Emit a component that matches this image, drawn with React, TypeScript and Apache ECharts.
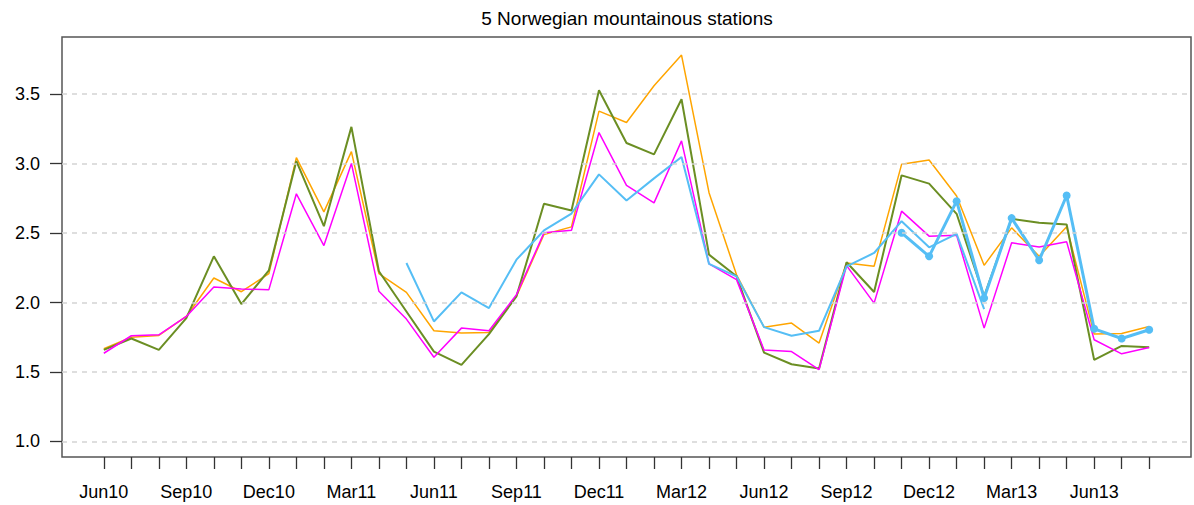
import React, { useEffect, useRef } from "react";
import * as echarts from "echarts";

const months = [
  "Jun10", "Jul10", "Aug10", "Sep10", "Oct10", "Nov10", "Dec10",
  "Jan11", "Feb11", "Mar11", "Apr11", "May11", "Jun11", "Jul11", "Aug11", "Sep11", "Oct11", "Nov11", "Dec11",
  "Jan12", "Feb12", "Mar12", "Apr12", "May12", "Jun12", "Jul12", "Aug12", "Sep12", "Oct12", "Nov12", "Dec12",
  "Jan13", "Feb13", "Mar13", "Apr13", "May13", "Jun13", "Jul13", "Aug13",
];

const labelMonths = ["Jun10", "Sep10", "Dec10", "Mar11", "Jun11", "Sep11", "Dec11", "Mar12", "Jun12", "Sep12", "Dec12", "Mar13", "Jun13"];
const yTicks = [1.0, 1.5, 2.0, 2.5, 3.0, 3.5];

const orange = [
  1.667, 1.751, 1.763, 1.9, 2.177, 2.078, 2.208, 3.043, 2.653, 3.087, 2.208, 2.073, 1.797, 1.78, 1.785, 2.045,
  2.49, 2.545, 3.378, 3.296, 3.561, 3.782, 2.791, 2.2, 1.823, 1.852, 1.708, 2.285, 2.261, 2.995, 3.026, 2.767,
  2.268, 2.538, 2.333, 2.545, 1.773, 1.777, 1.828,
];
const green = [
  1.659, 1.741, 1.659, 1.888, 2.333, 1.989, 2.232, 3.019, 2.55, 3.265, 2.225, 1.936, 1.647, 1.551, 1.773, 2.045,
  2.711, 2.663, 3.529, 3.149, 3.067, 3.464, 2.345, 2.189, 1.64, 1.556, 1.525, 2.29, 2.076, 2.916, 2.856, 2.639,
  2.045, 2.603, 2.574, 2.562, 1.587, 1.688, 1.679,
];
const magenta = [
  1.635, 1.761, 1.768, 1.9, 2.112, 2.097, 2.093, 2.783, 2.41, 3.002, 2.081, 1.881, 1.606, 1.816, 1.797, 2.057,
  2.502, 2.521, 3.224, 2.844, 2.718, 3.164, 2.278, 2.165, 1.659, 1.647, 1.517, 2.266, 1.996, 2.658, 2.478, 2.485,
  1.816, 2.43, 2.4, 2.437, 1.732, 1.631, 1.676,
];
const blueThin = [
  null, null, null, null, null, null, null, null, null, null, null, 2.285, 1.864, 2.073, 1.96, 2.309,
  2.519, 2.641, 2.923, 2.735, 2.894, 3.048, 2.278, 2.189, 1.823, 1.761, 1.797, 2.261, 2.357, 2.586, 2.398, 2.494,
  1.953, null, null, null, null, null, null,
];
const blueThick = [
  null, null, null, null, null, null, null, null, null, null, null, null, null, null, null, null,
  null, null, null, null, null, null, null, null, null, null, null, null, null, 2.502, 2.333, 2.73,
  2.032, 2.608, 2.304, 2.771, 1.811, 1.741, 1.804,
];

const FONT = "'Liberation Sans', Arial, sans-serif";
const BLUE = "#55BEF5";

function toPoints(arr: (number | null)[]) {
  const pts: [number, number][] = [];
  arr.forEach((v, i) => {
    if (v !== null && v !== undefined) pts.push([i, v]);
  });
  return pts;
}

export default function App() {
  const ref = useRef<HTMLDivElement>(null);
  useEffect(() => {
    if (!ref.current) return;
    const chart = echarts.init(ref.current, undefined, { renderer: "svg" });
    const n = months.length;
    const xPad = (n - 1) * 0.04;
    const yMin = 1.0, yMax = 3.8;
    const yPad = (yMax - yMin) * 0.04;
    const labelIdx = labelMonths.map((m) => months.indexOf(m));
    const lineSeries = (name: string, data: (number | null)[], color: string, width: number, extra: any = {}) => ({
      name,
      type: "line",
      data: toPoints(data),
      showSymbol: false,
      symbol: "none",
      lineStyle: { color, width },
      itemStyle: { color },
      silent: true,
      z: 3,
      ...extra,
    });
    chart.setOption({
      animation: false,
      backgroundColor: "#ffffff",
      graphic: [
        {
          type: "text",
          x: 627,
          y: 18,
          style: {
            text: "5 Norwegian mountainous stations",
            textAlign: "center",
            textVerticalAlign: "middle",
            font: `19px ${FONT}`,
            fill: "#000",
          },
        },
      ],
      grid: {
        left: 62,
        right: 3,
        top: 37,
        bottom: 48,
        show: true,
        borderColor: "#555",
        borderWidth: 1.5,
        backgroundColor: "transparent",
        containLabel: false,
      },
      xAxis: {
        type: "value",
        min: -xPad,
        max: n - 1 + xPad,
        axisLine: { show: false, onZero: false },
        splitLine: { show: false },
        axisTick: {
          show: true,
          inside: false,
          length: 12,
          customValues: months.map((_, i) => i),
          lineStyle: { color: "#333", width: 1.3 },
        },
        axisLabel: {
          show: true,
          customValues: labelIdx,
          formatter: (v: number) => months[Math.round(v)] ?? "",
          margin: 26,
          fontSize: 18,
          fontFamily: FONT,
          color: "#000",
        },
      },
      yAxis: {
        type: "value",
        min: yMin - yPad,
        max: yMax + yPad,
        axisLine: { show: false, onZero: false },
        splitLine: { show: false },
        axisTick: {
          show: true,
          inside: false,
          length: 12,
          customValues: yTicks,
          lineStyle: { color: "#333", width: 1.3 },
        },
        axisLabel: {
          show: true,
          customValues: yTicks,
          formatter: (v: number) => v.toFixed(1),
          margin: 22,
          fontSize: 18,
          fontFamily: FONT,
          color: "#000",
        },
      },
      series: [
        {
          type: "line",
          data: [],
          silent: true,
          z: 1,
          markLine: {
            silent: true,
            symbol: ["none", "none"],
            label: { show: false },
            lineStyle: { color: "#d3d3d3", type: [5, 5], width: 1.5 },
            data: yTicks.map((t) => ({ yAxis: t })),
          },
        },
        lineSeries("Station 1", orange, "#FFA500", 1.5),
        lineSeries("Station 2", green, "#6B8E23", 2),
        lineSeries("Station 3", magenta, "#FF00FF", 1.5),
        lineSeries("Station 4", blueThin, BLUE, 2),
        lineSeries("Station 5", blueThick, BLUE, 3, {
          showSymbol: true,
          symbol: "circle",
          symbolSize: 8,
          z: 4,
        }),
      ],
    });
    return () => chart.dispose();
  }, []);
  return (
    <div
      ref={ref}
      style={{ position: "fixed", left: 0, top: 0, width: 1194, height: 505 }}
    />
  );
}
